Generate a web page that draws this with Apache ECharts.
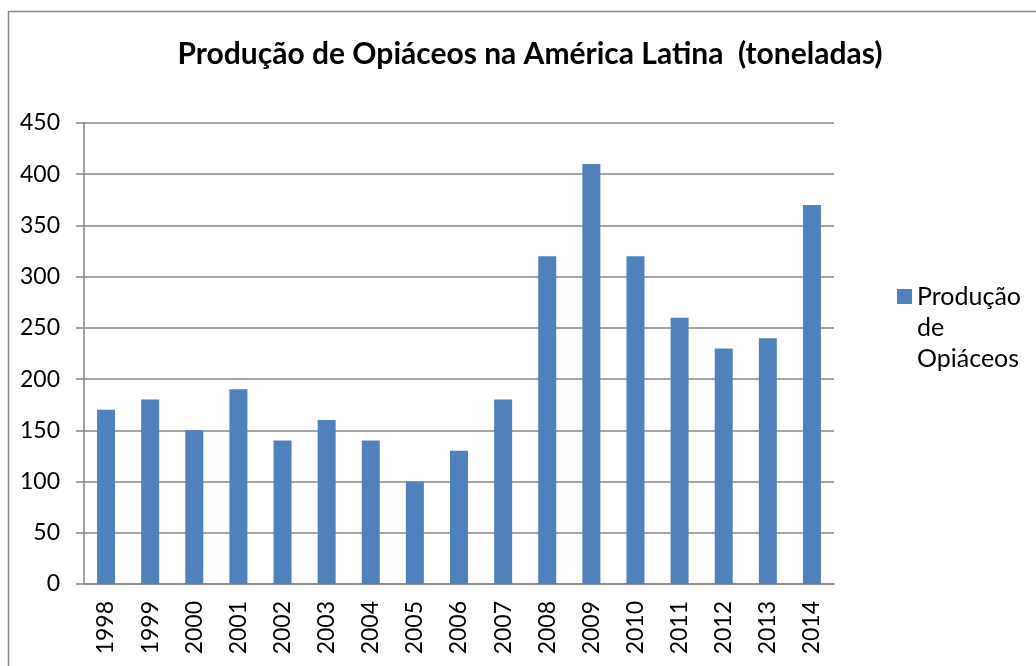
<!DOCTYPE html>
<html>
<head>
<meta charset="utf-8">
<script src="https://cdn.jsdelivr.net/npm/echarts@6/dist/echarts.min.js"></script>
<style>
  html, body { margin: 0; padding: 0; background: #fff; }
  #chart { width: 1036px; height: 666px; }
</style>
</head>
<body>
<div id="chart"></div>
<script>
var years = ['1998','1999','2000','2001','2002','2003','2004','2005','2006','2007','2008','2009','2010','2011','2012','2013','2014'];
var producao = [170, 180, 150, 190, 140, 160, 140, 100, 130, 180, 320, 410, 320, 260, 230, 240, 370];
var yTicks = [0, 50, 100, 150, 200, 250, 300, 350, 400, 450];

var chart = echarts.init(document.getElementById('chart'));
var font = 'Lato, "Open Sans", sans-serif';
var grey = '#868686';

var option = {
  animation: false,
  textStyle: { fontFamily: font },
  title: {
    text: 'Produção de Opiáceos na América Latina  (toneladas)',
    left: 525,
    textAlign: 'center',
    top: 34,
    textStyle: { fontFamily: font, fontSize: 30, fontWeight: 'bold', color: '#000' }
  },
  graphic: [{
    type: 'rect',
    shape: { x: 8.5, y: 11.5, width: 1100, height: 800 },
    style: { fill: 'none', stroke: grey, lineWidth: 1.5 },
    silent: true
  }],
  legend: {
    left: 892,
    top: 214,
    itemWidth: 15,
    itemHeight: 15,
    itemGap: 0,
    icon: 'rect',
    // two empty lines first so that "Produção" sits level with the square
    formatter: function () { return '\n\nProdução\nde\nOpiáceos'; },
    textStyle: { fontFamily: font, fontSize: 25, color: '#000', lineHeight: 31 }
  },
  grid: { left: 84, right: 202, top: 123, bottom: 82 },
  xAxis: {
    type: 'category',
    data: years,
    axisLine: { lineStyle: { color: grey, width: 1.5 } },
    axisTick: { length: 8, lineStyle: { color: grey, width: 1.5 } },
    axisLabel: { rotate: 90, margin: 17, fontSize: 23, color: '#000', fontFamily: font }
  },
  yAxis: {
    type: 'value',
    min: 0,
    max: yTicks[yTicks.length - 1],
    interval: 50,
    axisLine: { show: true, lineStyle: { color: grey, width: 1.5 } },
    axisTick: { show: true, length: 8, lineStyle: { color: grey, width: 1.5 } },
    axisLabel: { margin: 24, fontSize: 23, color: '#000', fontFamily: font },
    splitLine: { lineStyle: { color: grey, width: 1.5 } }
  },
  series: [{
    name: 'Produção de Opiáceos',
    type: 'bar',
    data: producao,
    barWidth: 18,
    itemStyle: { color: '#4F81BD' }
  }]
};
chart.setOption(option);
</script>
</body>
</html>
